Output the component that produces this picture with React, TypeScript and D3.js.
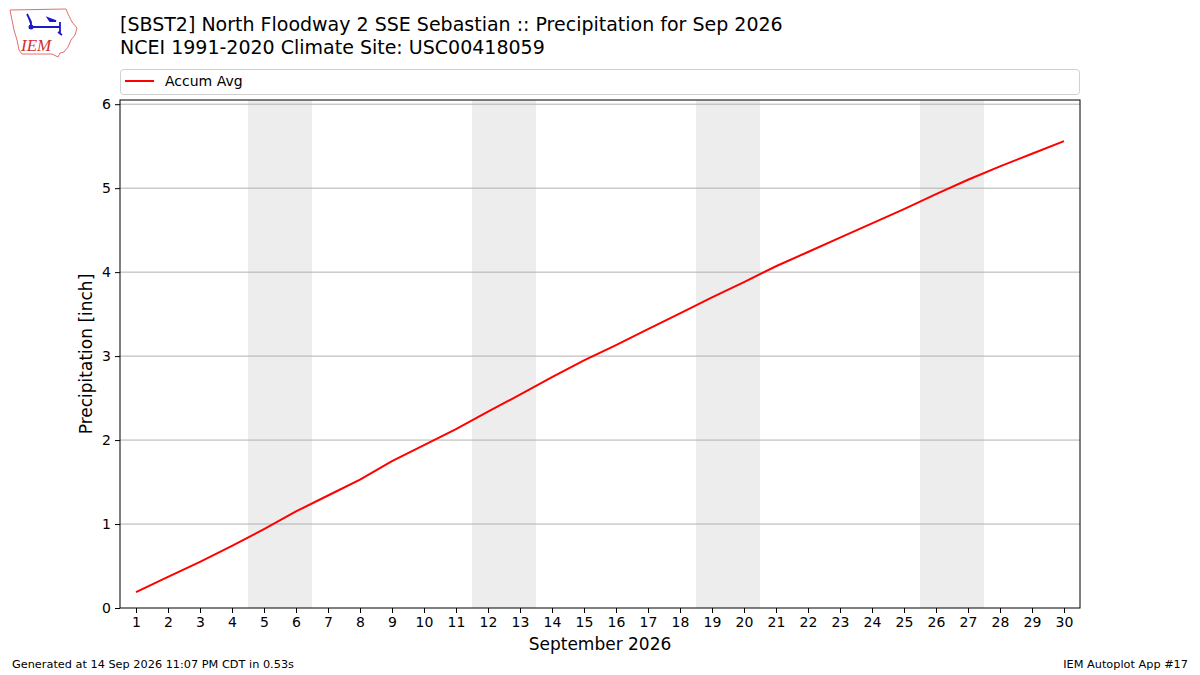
import React, { useEffect, useRef } from "react";
import * as d3 from "d3";

// September days and the accumulated climatology (inches)
const days: number[] = d3.range(1, 31);
const accumAvg: number[] = [
  0.19, 0.37, 0.55, 0.74, 0.94, 1.15, 1.34, 1.53, 1.75, 1.94,
  2.13, 2.34, 2.54, 2.75, 2.95, 3.13, 3.32, 3.51, 3.7, 3.88,
  4.07, 4.24, 4.41, 4.58, 4.75, 4.93, 5.1, 5.26, 5.41, 5.56,
];
// Saturdays starting each weekend band
const weekendStarts: number[] = [5, 12, 19, 26];
const yTicks: number[] = [0, 1, 2, 3, 4, 5, 6];

const titleLines = [
  "[SBST2] North Floodway 2 SSE Sebastian :: Precipitation for Sep 2026",
  "NCEI 1991-2020 Climate Site: USC00418059",
];

const FONT = "DejaVu Sans, sans-serif";

const App: React.FC = () => {
  const ref = useRef<SVGSVGElement | null>(null);

  useEffect(() => {
    const svg = d3.select(ref.current);
    svg.selectAll("*").remove();

    const left = 120, right = 1080, top = 100, bottom = 608;

    const x = d3.scaleLinear().domain([0.5, 30.5]).range([left, right]);
    const y = d3.scaleLinear().domain([0, 6.05]).range([bottom, top]);

    svg.append("rect").attr("width", 1200).attr("height", 675).attr("fill", "#fff");

    // weekend shading
    svg.append("g")
      .selectAll("rect")
      .data(weekendStarts)
      .join("rect")
      .attr("x", (d) => x(d - 0.5))
      .attr("width", (d) => x(d + 1.5) - x(d - 0.5))
      .attr("y", top)
      .attr("height", bottom - top)
      .attr("fill", "#ededed");

    // grid
    svg.append("g")
      .selectAll("line")
      .data(yTicks.filter((t) => t > 0))
      .join("line")
      .attr("x1", left)
      .attr("x2", right)
      .attr("y1", (d) => y(d))
      .attr("y2", (d) => y(d))
      .attr("stroke", "#b0b0b0")
      .attr("stroke-width", 1);

    // line
    const line = d3.line<number>()
      .x((_, i) => x(days[i]))
      .y((d) => y(d));
    svg.append("path")
      .datum(accumAvg)
      .attr("fill", "none")
      .attr("stroke", "red")
      .attr("stroke-width", 2)
      .attr("d", line);

    // frame
    svg.append("rect")
      .attr("x", left)
      .attr("y", top)
      .attr("width", right - left)
      .attr("height", bottom - top)
      .attr("fill", "none")
      .attr("stroke", "#000")
      .attr("stroke-width", 1);

    // axes
    const xAxis = svg.append("g")
      .attr("transform", `translate(0,${bottom})`)
      .call(d3.axisBottom(x).tickValues(days).tickFormat(d3.format("d")).tickSize(5).tickPadding(4));
    const yAxis = svg.append("g")
      .attr("transform", `translate(${left},0)`)
      .call(d3.axisLeft(y).tickValues(yTicks).tickFormat(d3.format("d")).tickSize(5).tickPadding(4));
    [xAxis, yAxis].forEach((g) => {
      g.select(".domain").remove();
      g.selectAll("text").attr("font-family", FONT).attr("font-size", 14).attr("fill", "#000");
      g.selectAll("line").attr("stroke", "#000");
    });

    // axis labels
    svg.append("text")
      .attr("x", (left + right) / 2)
      .attr("y", 650)
      .attr("text-anchor", "middle")
      .attr("font-family", FONT)
      .attr("font-size", 17)
      .text("September 2026");
    svg.append("text")
      .attr("transform", `translate(92,${(top + bottom) / 2}) rotate(-90)`)
      .attr("text-anchor", "middle")
      .attr("font-family", FONT)
      .attr("font-size", 17)
      .text("Precipitation [inch]");

    // legend
    const lg = svg.append("g");
    lg.append("rect")
      .attr("x", 120.5)
      .attr("y", 69.5)
      .attr("width", 959)
      .attr("height", 25)
      .attr("rx", 3)
      .attr("fill", "#fff")
      .attr("stroke", "#d0d0d0");
    lg.append("line")
      .attr("x1", 125).attr("x2", 154)
      .attr("y1", 81).attr("y2", 81)
      .attr("stroke", "red").attr("stroke-width", 2);
    lg.append("text")
      .attr("x", 165).attr("y", 86)
      .attr("font-family", FONT).attr("font-size", 14)
      .text("Accum Avg");

    // title
    svg.append("g")
      .selectAll("text")
      .data(titleLines)
      .join("text")
      .attr("x", 120)
      .attr("y", (_, i) => 31 + i * 23)
      .attr("font-family", FONT)
      .attr("font-size", 19)
      .text((d) => d);

    // footer
    svg.append("text")
      .attr("x", 12).attr("y", 668)
      .attr("font-family", FONT).attr("font-size", 11.3)
      .text("Generated at 14 Sep 2026 11:07 PM CDT in 0.53s");
    svg.append("text")
      .attr("x", 1188).attr("y", 668)
      .attr("text-anchor", "end")
      .attr("font-family", FONT).attr("font-size", 11.3)
      .text("IEM Autoplot App #17");

    // logo (rough Iowa outline)
    const logo = svg.append("g");
    logo.append("path")
      .attr("d", "M10,10 L66,9 L68,14 L72,22 L77,28 L75,35 L71,40 L68,47 L64,52 L60,53 L58,57 L52,54 L22,54 L19,50 L17,40 L14,30 L12,20 Z")
      .attr("fill", "#fff")
      .attr("stroke", "#e07070")
      .attr("stroke-width", 1);
    logo.append("path")
      .attr("d", "M31,27 L60,27 M60,22 L60,34 M27,14 L31,22 L31,27 M48,18 L56,21 L50,21 Z M58,32 L62,35")
      .attr("stroke", "#1a1acc")
      .attr("stroke-width", 1.8)
      .attr("fill", "#1a1acc");
    logo.append("circle").attr("cx", 31).attr("cy", 27).attr("r", 2.5).attr("fill", "#1a1acc");
    logo.append("text")
      .attr("x", 21).attr("y", 51)
      .attr("font-family", "Liberation Serif, serif")
      .attr("font-style", "italic")
      .attr("font-size", 17)
      .attr("fill", "#d03030")
      .text("IEM");
  }, []);

  return (
    <svg
      ref={ref}
      width={1200}
      height={675}
      style={{ display: "block", position: "absolute", left: 0, top: 0 }}
    />
  );
};

export default App;
